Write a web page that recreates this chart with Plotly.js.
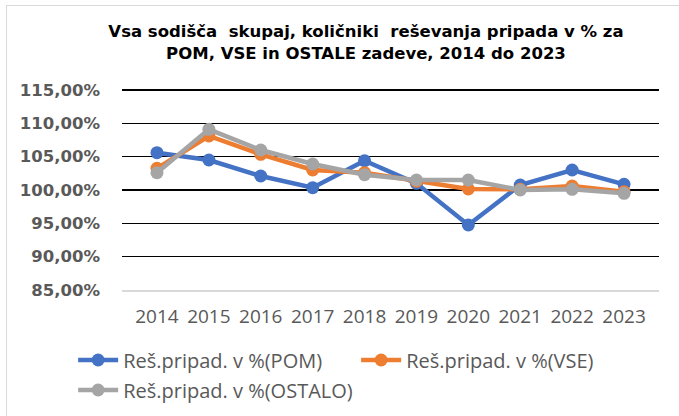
<!DOCTYPE html>
<html>
<head>
<meta charset="utf-8">
<script src="https://cdn.plot.ly/plotly-3.0.1.min.js"></script>
<style>
html,body{margin:0;padding:0;background:#fff;}
#wrap{position:relative;width:679px;height:416px;}
#frame{position:absolute;left:6px;top:5px;width:690px;height:420px;border:1px solid #d9d9d9;box-sizing:border-box;pointer-events:none;}
#chart{position:absolute;left:0;top:0;width:679px;height:416px;}
</style>
</head>
<body>
<div id="wrap"><div id="chart"></div><div id="frame"></div></div>
<script>
const years = ['2014','2015','2016','2017','2018','2019','2020','2021','2022','2023'];
const pom = [105.6, 104.5, 102.1, 100.35, 104.4, 101.0, 94.75, 100.75, 103.0, 100.85];
const vse = [103.25, 108.1, 105.35, 103.0, 102.6, 101.3, 100.15, 100.1, 100.6, 99.75];
const ostalo = [102.6, 109.1, 106.0, 103.9, 102.3, 101.5, 101.5, 100.0, 100.1, 99.5];
const names = ['Reš.pripad. v %(POM)', 'Reš.pripad. v %(VSE)', 'Reš.pripad. v %(OSTALO)'];
const colors = ['#4472C4', '#ED7D31', '#A5A5A5'];
const yTicks = [85, 90, 95, 100, 105, 110, 115];
const yTickText = yTicks.map(v => v.toFixed(2).replace('.', ',') + '%');

const legendIds = ['legend', 'legend3', 'legend2'];
const series = [pom, vse, ostalo];
const traces = series.map((s, i) => ({
  x: years, y: s, name: names[i], type: 'scatter', mode: 'lines+markers',
  legend: legendIds[i],
  line: {color: colors[i], width: 4.5},
  marker: {color: colors[i], size: 13, symbol: 'circle'}
}));

const legFont = {family: 'Open Sans, sans-serif', size: 20, color: '#595959'};

const layout = {
  width: 679, height: 416,
  margin: {l: 122, r: 20, t: 88, b: 126, autoexpand: false},
  paper_bgcolor: 'rgba(0,0,0,0)', plot_bgcolor: '#fff',
  title: {
    text: '<b>Vsa sodišča  skupaj, količniki  reševanja pripada v % za<br>POM, VSE in OSTALE zadeve, 2014 do 2023</b>',
    font: {family: 'DejaVu Sans, sans-serif', size: 16.5, color: '#000'},
    x: 0.539, xanchor: 'center', xref: 'container', y: 0.91, yanchor: 'middle', yref: 'container'
  },
  xaxis: {
    type: 'category', showgrid: false, showline: true, linecolor: '#d9d9d9', linewidth: 1.5,
    ticks: '', tickfont: {family: 'Open Sans, sans-serif', size: 19, color: '#595959'},
    ticklabelstandoff: 9, zeroline: false, fixedrange: true
  },
  yaxis: {
    range: [85, 115.3], tickvals: yTicks, ticktext: yTickText,
    showgrid: true, gridcolor: '#000', gridwidth: 1.6, zeroline: false, showline: false,
    tickfont: {family: 'DejaVu Sans, sans-serif', size: 16.5, color: '#595959', weight: 'bold'},
    ticklabelstandoff: 21, fixedrange: true
  },
  showlegend: true,
  legend: {
    orientation: 'h', x: -0.091, xanchor: 'left', y: 0.1346, yanchor: 'middle', yref: 'container',
    font: legFont, itemwidth: 40, bgcolor: 'rgba(0,0,0,0)'
  },
  legend2: {
    orientation: 'h', x: -0.091, xanchor: 'left', y: 0.0625, yanchor: 'middle', yref: 'container',
    font: legFont, itemwidth: 40, bgcolor: 'rgba(0,0,0,0)'
  },
  legend3: {
    orientation: 'h', x: 0.436, xanchor: 'left', y: 0.1346, yanchor: 'middle', yref: 'container',
    font: legFont, itemwidth: 40, bgcolor: 'rgba(0,0,0,0)'
  }
};

Plotly.newPlot('chart', traces, layout, {displayModeBar: false, staticPlot: true});
</script>
</body>
</html>
